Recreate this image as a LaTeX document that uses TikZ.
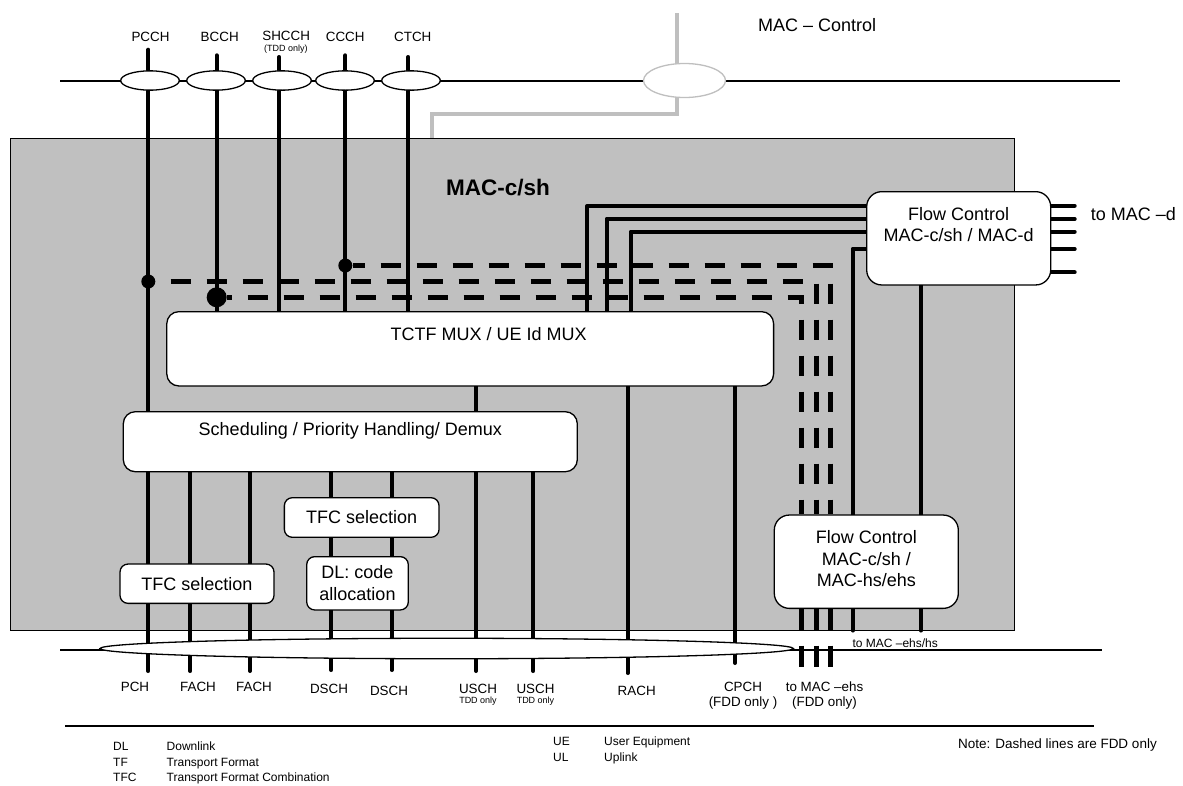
\documentclass[tikz,border=0pt]{standalone}
\usepackage{fontspec}
\setmainfont{Liberation Sans}
\usetikzlibrary{shapes.geometric}
\definecolor{macgray}{RGB}{192, 192, 192}
\definecolor{ctrlgray}{RGB}{191, 191, 191}
\newcommand\fsbox{\fontsize{18}{21.6}\selectfont}
\newcommand\fschan{\fontsize{13.4}{16}\selectfont}
\newcommand\fstdd{\fontsize{9}{10.5}\selectfont}
\newcommand\fsleg{\fontsize{12}{14}\selectfont}
\newcommand\fsnote{\fontsize{13.5}{16}\selectfont}
\pgfdeclarelayer{back}
\pgfdeclarelayer{wires}
\pgfsetlayers{back,wires,main}
\tikzset{
  box/.style={draw, fill=white, line width=1.3pt, rounded corners=12pt, inner sep=0pt},
  smallbox/.style={box, rounded corners=8pt, font=\fsbox, align=center},
  boxtext/.style={anchor=north, inner sep=0pt, align=center, font=\fsbox},
  mux/.style={draw, fill=white, ellipse, line width=1.3pt, inner sep=0pt, minimum width=58.6pt, minimum height=19.3pt},
  chan/.style={line width=4pt, line cap=round, line join=round},
  fdd/.style={line width=5pt, dash pattern=on 20pt off 16pt},
  fddstub/.style={line width=5pt},
  ctrl/.style={line width=4pt, ctrlgray},
  jdot/.style={circle, fill=black, inner sep=0pt, minimum size=14pt},
  jbigdot/.style={jdot, minimum size=20pt},
  lbl/.style={anchor=base, inner sep=0pt, font=\fschan},
  tddlbl/.style={anchor=base, inner sep=0pt, font=\fstdd},
  leg/.style={anchor=base west, inner sep=0pt, font=\fsleg},
}

\begin{document}
\begin{tikzpicture}[x=1pt, y=-1pt]
  \useasboundingbox (0,0) rectangle (1183,785);

  \begin{pgfonlayer}{back}
    \node[draw, fill=macgray, line width=1pt, inner sep=0pt, minimum width=1004.3pt, minimum height=491.7pt] (macbox) at (512.2,384.2) {};
  \end{pgfonlayer}

  \node[anchor=base west, inner sep=0pt, font=\fsbox] (ctrllbl) at (758,31.7) {MAC \textendash{} Control};
  \node[anchor=base west, inner sep=0pt, font=\fontsize{22.5}{26}\selectfont\bfseries] (maclbl) at (446,195.5) {MAC-c/sh};

  % logical channels on top
  \node[lbl] (lpcch) at (150.5,41.7) {PCCH};
  \node[lbl] (lbcch) at (219.7,41.7) {BCCH};
  \node[lbl] (lshcch) at (286.2,40.3) {SHCCH};
  \node[tddlbl] (tshcch) at (285.8,51.5) {(TDD only)};
  \node[lbl] (lccch) at (345.2,41.7) {CCCH};
  \node[lbl] (lctch) at (412.8,41.7) {CTCH};
  \node[mux] (epcch) at (150,80.5) {};
  \node[mux] (ebcch) at (216,80.5) {};
  \node[mux] (eshcch) at (282,80.5) {};
  \node[mux] (eccch) at (345,80.5) {};
  \node[mux] (ectch) at (411,80.5) {};
  \node[mux, draw=ctrlgray, minimum width=82pt, minimum height=34pt] (ectrl) at (684.5,80.5) {};
  \coordinate (tpcch) at (148.3,49.7);
  \coordinate (tbcch) at (216.7,55.3);
  \coordinate (tshcch) at (279.3,57);
  \coordinate (tccch) at (345.3,55.3);
  \coordinate (tctch) at (408.3,57);
  \coordinate (tctrl) at (677,13.3);
  \coordinate (kctrl) at (431.7,114.3);

  % function blocks
  \node[box, minimum width=606.8pt, minimum height=74.3pt, label={[boxtext, xshift=18.5pt, yshift=-16pt]north:{TCTF MUX / UE Id MUX}}] (tctf) at (470.2,348.8) {};
  \node[box, minimum width=454pt, minimum height=60pt, label={[boxtext, yshift=-11.5pt]north:{Scheduling / Priority Handling/ Demux}}] (sched) at (350.3,441.7) {};
  \node[smallbox, minimum width=154pt, minimum height=39.3pt] (tfcL) at (197,583.7) {TFC selection};
  \node[smallbox, minimum width=154.7pt, minimum height=39.6pt] (tfcM) at (361.7,517.5) {TFC selection};
  \node[smallbox, minimum width=101.6pt, minimum height=53.3pt] (dlcode) at (357.5,583.3) {DL: code\\allocation};
  \node[box, rounded corners=15pt, minimum width=184pt, minimum height=93.3pt, label={[boxtext, yshift=-16pt]north:{Flow Control\\MAC-c/sh / MAC-d}}] (fcD) at (958.7,238.3) {};
  \node[box, rounded corners=15pt, minimum width=184pt, minimum height=93.3pt, label={[boxtext, yshift=-16pt]north:{Flow Control\\MAC-c/sh /\\MAC-hs/ehs}}] (fcHS) at (866.3,561.7) {};
  \node[anchor=base west, inner sep=0pt, font=\fsbox] (todlbl) at (1090.7,220) {to MAC \textendash d};
  \node[anchor=base west, inner sep=0pt, font=\fsleg] (tohslbl) at (852.3,647.3) {to MAC \textendash ehs/hs};

  \node[jdot] (jpcch) at (148.3,281.5) {};
  \node[jbigdot] (jbcch) at (216.7,297.3) {};
  \node[jdot] (jccch) at (345.3,265.5) {};

  % transport channels at the bottom
  \node[mux, minimum width=693.3pt, minimum height=20.5pt] (trch) at (446.7,648.5) {};
  \node[lbl] (lpch) at (135,691) {PCH};
  \node[lbl] (lfacha) at (198,691) {FACH};
  \node[lbl] (lfachb) at (254,691) {FACH};
  \node[lbl] (ldscha) at (329,693.3) {DSCH};
  \node[lbl] (ldschb) at (389,695) {DSCH};
  \node[lbl] (luscha) at (478,693.5) {USCH};
  \node[tddlbl] (tuscha) at (478,703) {TDD only};
  \node[lbl] (luschb) at (535.5,693.5) {USCH};
  \node[tddlbl] (tuschb) at (535.5,703) {TDD only};
  \node[lbl] (lrach) at (636.7,695) {RACH};
  \node[lbl] (lcpch) at (743,691) {CPCH};
  \node[lbl] (fcpch) at (743,706.7) {(FDD only )};
  \node[lbl] (lehs) at (824.5,691) {to MAC \textendash ehs};
  \node[lbl] (fehs) at (824.5,706.7) {(FDD only)};
  \coordinate (bpch) at (148.3,671);
  \coordinate (bfacha) at (190.3,671);
  \coordinate (bfachb) at (250,671);
  \coordinate (bdscha) at (331.3,670);
  \coordinate (bdschb) at (391.7,670);
  \coordinate (buscha) at (476,671);
  \coordinate (buschb) at (533.3,671);
  \coordinate (brach) at (627.7,673);
  \coordinate (bcpch) at (735,663);

  \coordinate (s1) at (587.3,206);
  \coordinate (s2) at (606.7,218.7);
  \coordinate (s3) at (630.7,231.7);
  \coordinate (s4) at (852.7,248.5);
  \coordinate (s5) at (921,285);
  \coordinate (toD) at (1074.7,238);
  \coordinate (cccch) at (830.5,265.5);
  \coordinate (cpcch) at (816.5,281.5);
  \coordinate (cbcch) at (801.5,297.3);
  \coordinate (ehsT) at (0,645.7);
  \coordinate (ehsB) at (0,666.7);

  \coordinate (ltop) at (60,81);
  \coordinate (rtop) at (1120,81);
  \coordinate (lbot) at (60,650);
  \coordinate (rbot) at (1102,650);

  % legend
  \coordinate (legL) at (65,726);
  \coordinate (legR) at (1094,726);
  \node[leg] (adl) at (113,750.5) {DL};
  \node[leg] (ddl) at (166.5,750.5) {Downlink};
  \node[leg] (atf) at (113,766) {TF};
  \node[leg] (dtf) at (166.5,766) {Transport Format};
  \node[leg] (atfc) at (113,781.5) {TFC};
  \node[leg] (dtfc) at (166.5,781.5) {Transport Format Combination};
  \node[leg] (aue) at (553,745.5) {UE};
  \node[leg] (due) at (604,745.5) {User Equipment};
  \node[leg] (aul) at (553,761) {UL};
  \node[leg] (dul) at (604,761) {Uplink};
  \node[anchor=base west, inner sep=0pt, font=\fsnote] (note) at (958,748) {Note: Dashed lines are FDD only};

  \begin{pgfonlayer}{wires}
    \draw[line width=1.3pt] (ltop) -- (rtop);
    \draw[line width=1.3pt] (lbot) -- (rbot);
    \draw[line width=1.5pt] (legL) -- (legR);
    \draw[ctrl] (tctrl) -- (tctrl |- kctrl) -- (kctrl) -- (kctrl |- macbox.north);
    \draw[chan] (tpcch) -- (tpcch |- sched.north);
    \foreach \n in {bcch,shcch,ccch,ctch}
      \draw[chan] (t\n) -- (t\n |- tctf.north);
    \foreach \n in {pch,facha,fachb,dscha,dschb,uschb}
      \draw[chan] (b\n |- sched.south) -- (b\n);
    \foreach \n in {uscha,rach,cpch}
      \draw[chan] (b\n |- tctf.south) -- (b\n);
    \foreach \n in {s1,s2,s3}
      \draw[chan] (\n |- tctf.north) -- (\n) -- (\n -| fcD.west);
    \draw[chan] (s4 |- macbox.south) -- (s4) -- (s4 -| fcD.west);
    \draw[chan] (s5 |- fcD.south) -- (s5 |- macbox.south);
    \foreach \y in {205.7,219,231.7,249,272.3}
      \draw[chan] (fcD.east |- 0,\y) -- (toD |- 0,\y);
    \foreach \n/\p in {pcch/21,bcch/15.2,ccch/8} {
      \draw[fdd, dash phase=\p pt] (j\n) -- (c\n) -- (c\n |- fcHS.north);
      \draw[fddstub] (c\n |- fcHS.south) -- (c\n |- macbox.south);
      \draw[fddstub] (c\n |- ehsT) -- (c\n |- ehsB);
    }
  \end{pgfonlayer}
\end{tikzpicture}
\end{document}
